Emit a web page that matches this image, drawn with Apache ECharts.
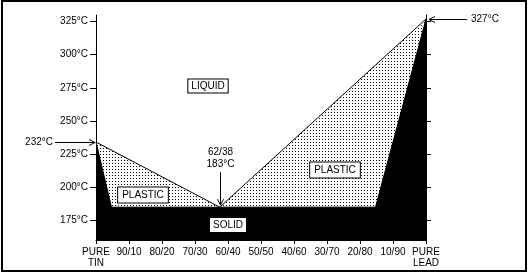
<!DOCTYPE html>
<html><head><meta charset="utf-8">
<script src="https://cdn.jsdelivr.net/npm/echarts@6/dist/echarts.min.js"></script>
<style>html,body{margin:0;padding:0;background:#fff}#c{width:528px;height:275px}</style>
</head><body><div id="c"></div>
<script>
// Composition axis: % lead (0 = pure tin, 100 = pure lead)
const xTicks = [0,10,20,30,40,50,60,70,80,90,100];
const xTickLabels = ['PURE\nTIN','90/10','80/20','70/30','60/40','50/50','40/60','30/70','20/80','10/90','PURE\nLEAD'];
const yTicks = [175,200,225,250,275,300,325];
// Liquidus (upper boundary of plastic region)
const liquidusX = [0, 37.5, 100];
const liquidusT = [234, 184.8, 327];
// Solidus (upper boundary of solid region)
const solidusX = [0, 4.7, 84.7, 100];
const solidusT = [234, 184.8, 184.8, 327];
// Region labels
const phaseLabels = ['LIQUID','PLASTIC','PLASTIC','SOLID'];
const phaseLabelX = [34, 14.1, 72.4, 40];
const phaseLabelT = [276.7, 194.3, 212.9, 171.2];
// Point annotations
const notePointX = [0, 37.5, 100];
const notePointT = [234, 184.8, 327];
const noteTexts = ['232°C', '62/38\n183°C', '327°C'];

const FONT = '"Liberation Sans", Arial, sans-serif';
const chart = echarts.init(document.getElementById('c'), null, {renderer:'canvas'});

const pc = document.createElement('canvas'); pc.width = 3; pc.height = 3;
const g = pc.getContext('2d'); g.fillStyle = '#fff'; g.fillRect(0,0,3,3); g.fillStyle = '#000'; g.fillRect(1,1,1,1);

const pairs = (xs, ys) => xs.map((x,i)=>[x, ys[i]]);

const yAxisBase = {
  type:'value', min:160, max:330,
  axisLine:{show:true, lineStyle:{color:'#000', width:1}},
  splitLine:{show:false},
};

chart.setOption({
  animation:false,
  grid:{left:96, right:102, top:15, bottom:35},
  xAxis:{
    type:'value', min:0, max:100, interval:10,
    axisLine:{lineStyle:{color:'#000', width:1}},
    axisTick:{length:4, lineStyle:{color:'#000'}},
    splitLine:{show:false},
    axisLabel:{color:'#000', fontSize:10, fontFamily:FONT, lineHeight:11, margin:7,
      formatter: v => xTickLabels[xTicks.indexOf(v)] || ''}
  },
  yAxis:[
    Object.assign({}, yAxisBase, {position:'left',
      axisTick:{show:true, length:6, customValues:yTicks, lineStyle:{color:'#000'}},
      axisLabel:{show:true, customValues:yTicks, color:'#000', fontSize:10, fontFamily:FONT, margin:8,
        formatter: v => v + '°C'}}),
    Object.assign({}, yAxisBase, {position:'right',
      axisTick:{show:true, length:5, customValues:yTicks, lineStyle:{color:'#000'}},
      axisLabel:{show:false}})
  ],
  series:[
    {type:'line', name:'plastic', data:pairs(liquidusX, liquidusT), symbol:'none', z:1,
      lineStyle:{width:0}, areaStyle:{origin:'start', opacity:1, color:{image:pc, repeat:'repeat'}}},
    {type:'line', name:'solid', data:pairs(solidusX, solidusT), symbol:'none', z:2,
      lineStyle:{width:1, color:'#000'}, areaStyle:{origin:'start', opacity:1, color:'#000'}},
    {type:'line', name:'liquidus', data:pairs(liquidusX, liquidusT), symbol:'none', z:3,
      lineStyle:{width:1, color:'#000'}}
  ]
});

const P = (x,t) => chart.convertToPixel({xAxisIndex:0, yAxisIndex:0}, [x,t]);
const els = [];
const pads = [[1,3],[2,4],[2,4],[1.5,3]];
phaseLabels.forEach((txt,i) => {
  const p = P(phaseLabelX[i], phaseLabelT[i]);
  els.push({type:'text', z:10, style:{text:txt, x:Math.round(p[0]), y:Math.round(p[1]), align:'center', verticalAlign:'middle',
    font:'10px ' + FONT, fill:'#000', lineHeight:11, backgroundColor:'#fff', borderColor:'#000', borderWidth:1, padding:pads[i]}});
});
function arrow(x1,y1,x2,y2){ // tail -> tip
  const dx=x2-x1, dy=y2-y1, L=Math.hypot(dx,dy), ux=dx/L, uy=dy/L, hl=6, hw=3;
  els.push({type:'polyline', z:10, shape:{points:[[x1,y1],[x2,y2]]}, style:{stroke:'#000', lineWidth:1, fill:null}});
  els.push({type:'polyline', z:10, shape:{points:[[x2-ux*hl-uy*hw, y2-uy*hl+ux*hw],[x2,y2],[x2-ux*hl+uy*hw, y2-uy*hl-ux*hw]]}, style:{stroke:'#000', lineWidth:1, fill:null}});
}
// 232°C
let p = P(notePointX[0], notePointT[0]);
let yy = Math.round(p[1]) + 0.5;
arrow(55, yy, p[0]-1, yy);
els.push({type:'text', z:10, style:{text:noteTexts[0], x:53, y:yy, align:'right', verticalAlign:'middle', font:'10px '+FONT, fill:'#000'}});
// eutectic
p = P(notePointX[1], notePointT[1]);
let xx = Math.round(p[0]) + 0.5;
arrow(xx, p[1]-35, xx, p[1]-2);
els.push({type:'text', z:10, style:{text:noteTexts[1], x:xx, y:p[1]-37, align:'center', verticalAlign:'bottom', font:'10px '+FONT, fill:'#000', lineHeight:12}});
// 327°C
p = P(notePointX[2], notePointT[2]);
yy = Math.round(p[1]) + 0.5;
arrow(467, yy, p[0]+3, yy);
els.push({type:'text', z:10, style:{text:noteTexts[2], x:471, y:yy, align:'left', verticalAlign:'middle', font:'10px '+FONT, fill:'#000'}});
// outer frame
els.push({type:'rect', z:20, shape:{x:2, y:1, width:524, height:270}, style:{fill:null, stroke:'#000', lineWidth:2}});
chart.setOption({graphic:{elements:els}});
</script>
</body></html>
